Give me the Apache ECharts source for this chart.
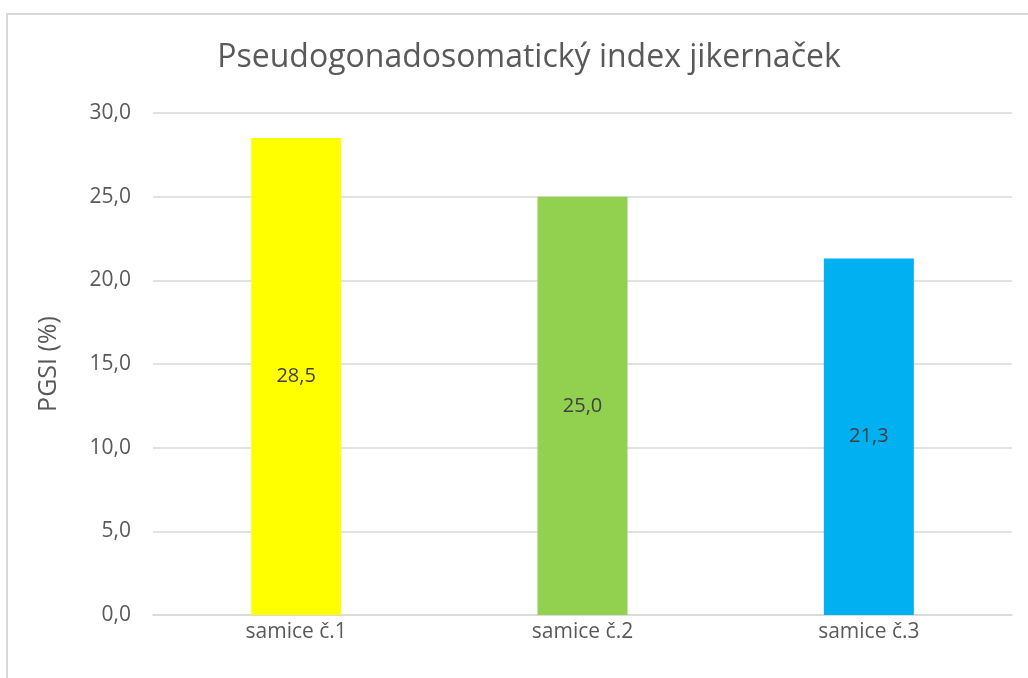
<!DOCTYPE html>
<html>
<head>
<meta charset="utf-8">
<style>
  html, body { margin: 0; padding: 0; background: #fff; }
  #chart { width: 1028px; height: 678px; }
</style>
<script src="https://cdn.jsdelivr.net/npm/echarts@6/dist/echarts.min.js"></script>
</head>
<body>
<div id="chart"></div>
<script>
// data
const categories = ['samice č.1', 'samice č.2', 'samice č.3']
const values = [28.5, 25.0, 21.3]
const barColors = ['#FFFF00', '#92D050', '#00B0F0']
const titleText = 'Pseudogonadosomatický index jikernaček'
const yName = 'PGSI (%)'

const fmt = v => (+v).toFixed(1).replace('.', ',')
const font = '"Open Sans", "Noto Sans", sans-serif'

const chart = echarts.init(document.getElementById('chart'))
chart.setOption({
    animation: false,
    textStyle: { fontFamily: font },
    graphic: [{
        // chart area frame
        type: 'rect',
        shape: { x: 7, y: 14, width: 1040, height: 700 },
        style: { fill: 'none', stroke: '#d9d9d9', lineWidth: 2 },
        silent: true
    }],
    title: {
        text: titleText,
        left: 524,
        textAlign: 'center',
        top: 37,
        textStyle: { fontFamily: font, fontSize: 32, fontWeight: 'normal', color: '#595959' }
    },
    grid: { left: 153, right: 16, top: 113, bottom: 63 },
    xAxis: {
        type: 'category',
        data: categories,
        axisLine: { lineStyle: { color: '#d9d9d9', width: 1.5 } },
        axisTick: { show: false },
        axisLabel: { fontFamily: font, fontSize: 21, color: '#595959', margin: 7 }
    },
    yAxis: {
        type: 'value',
        min: 0,
        max: 30,
        interval: 5,
        name: yName,
        nameLocation: 'middle',
        nameGap: 92,
        nameTextStyle: { fontFamily: font, fontSize: 25, color: '#595959' },
        axisLine: { show: false },
        axisTick: { show: false },
        axisLabel: { fontFamily: font, fontSize: 21, color: '#595959', margin: 22, formatter: fmt },
        splitLine: { lineStyle: { color: '#d9d9d9', width: 1.5 } }
    },
    series: [{
        type: 'bar',
        barWidth: 90,
        data: values.map((v, i) => ({ value: v, itemStyle: { color: barColors[i] } })),
        label: {
            show: true,
            position: 'inside',
            fontFamily: font,
            fontSize: 20,
            color: '#404040',
            formatter: p => fmt(p.value)
        }
    }]
})
</script>
</body>
</html>
